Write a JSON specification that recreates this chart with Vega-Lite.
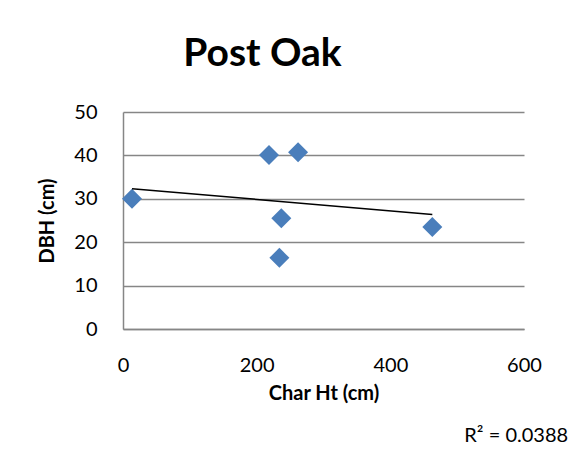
{
  "$schema": "https://vega.github.io/schema/vega-lite/v6.json",
  "width": 401,
  "height": 217,
  "autosize": {"type": "none"},
  "padding": {"left": 123, "top": 112, "right": 53, "bottom": 126},
  "background": "white",
  "config": {
    "font": "Lato",
    "view": {"stroke": null},
    "axis": {
      "labelFont": "Lato",
      "labelFontSize": 20,
      "labelColor": "#000000",
      "titleFont": "Lato",
      "titleFontSize": 20,
      "titleFontWeight": "bold",
      "titleColor": "#000000",
      "ticks": false,
      "domainColor": "#868686",
      "domainWidth": 1.5,
      "gridColor": "#868686",
      "gridWidth": 1.5
    }
  },
  "title": {
    "text": "Post Oak",
    "font": "Lato",
    "fontSize": 39,
    "fontWeight": "bold",
    "color": "#000000",
    "anchor": "middle",
    "frame": "group",
    "dx": -61,
    "offset": 36,
    "dy": 39,
    "baseline": "alphabetic"
  },
  "data": {
    "values": [
      {"char_ht": 13.5, "dbh": 30.0},
      {"char_ht": 218.5, "dbh": 40.1},
      {"char_ht": 261.9, "dbh": 40.7},
      {"char_ht": 236.9, "dbh": 25.5},
      {"char_ht": 234.0, "dbh": 16.4},
      {"char_ht": 462.8, "dbh": 23.5}
    ]
  },
  "layer": [
    {
      "mark": {"type": "point", "shape": "diamond", "filled": true, "size": 400, "color": "#4A7EBB", "opacity": 1},
      "encoding": {
        "x": {
          "field": "char_ht",
          "type": "quantitative",
          "title": "Char Ht (cm)",
          "scale": {"domain": [0, 600], "nice": false},
          "axis": {"values": [0, 200, 400, 600], "grid": false, "labelPadding": 26, "titlePadding": 8, "labelFlush": false}
        },
        "y": {
          "field": "dbh",
          "type": "quantitative",
          "title": "DBH (cm)",
          "scale": {"domain": [0, 50], "nice": false},
          "axis": {"values": [0, 10, 20, 30, 40, 50], "grid": true, "labelPadding": 26, "titlePadding": 16, "labelFlush": false}
        }
      }
    },
    {
      "transform": [{"regression": "dbh", "on": "char_ht"}],
      "mark": {"type": "line", "color": "#000000", "strokeWidth": 1.5},
      "encoding": {
        "x": {"field": "char_ht", "type": "quantitative"},
        "y": {"field": "dbh", "type": "quantitative"}
      }
    },
    {
      "data": {"values": [{"label": "R² = 0.0388"}]},
      "mark": {"type": "text", "align": "right", "baseline": "middle", "fontSize": 20, "font": "Lato", "color": "#000000"},
      "encoding": {
        "x": {"datum": 666, "type": "quantitative"},
        "y": {"datum": -24.6, "type": "quantitative"},
        "text": {"field": "label"}
      }
    }
  ]
}
